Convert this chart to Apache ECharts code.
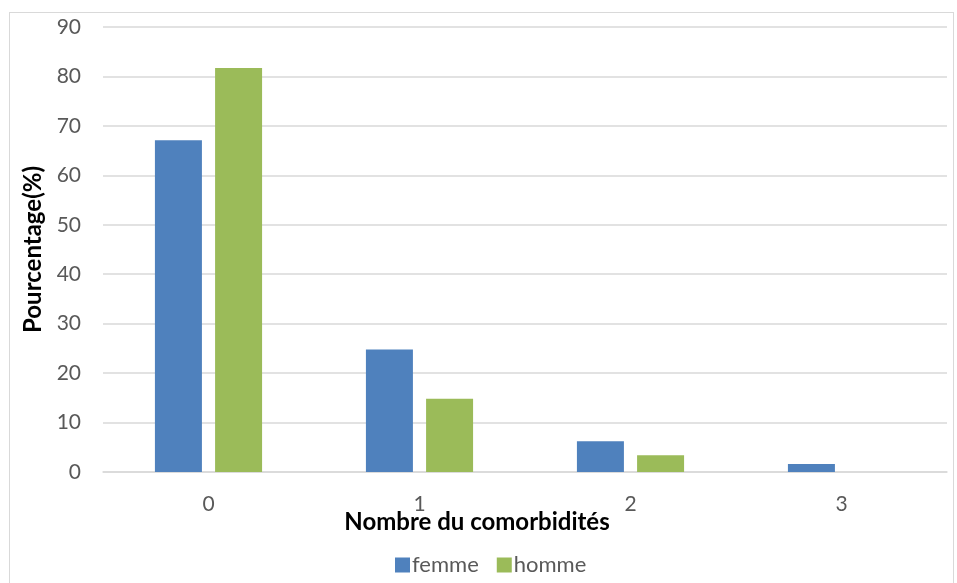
<!DOCTYPE html>
<html>
<head>
<meta charset="utf-8">
<script src="https://cdn.jsdelivr.net/npm/echarts@6/dist/echarts.min.js"></script>
<style>
  html, body { margin: 0; padding: 0; background: #fff; }
  #frame { position: absolute; left: 9px; top: 12px; width: 945px; height: 580px; border: 1px solid #d9d9d9; box-sizing: border-box; }
  #chart { position: absolute; left: 0; top: 0; width: 957px; height: 583px; }
</style>
</head>
<body>
<div id="frame"></div>
<div id="chart"></div>
<script>
// Number of comorbidities by sex (percent)
const categories = ['0', '1', '2', '3'];
const femme = [67.1, 24.8, 6.2, 1.6];
const homme = [81.7, 14.8, 3.4, 0];
const yTicks = { min: 0, max: 90, interval: 10 };

const FONT = 'Lato, "Open Sans", sans-serif';
const chart = echarts.init(document.getElementById('chart'), null, { renderer: 'canvas' });
chart.setOption({
  animation: false,
  textStyle: { fontFamily: FONT },
  grid: { left: 103, right: 10, top: 27, bottom: 111, containLabel: false },
  legend: {
    bottom: 2,
    left: 390,
    itemWidth: 15,
    itemHeight: 15,
    itemGap: 18,
    icon: 'rect',
    textStyle: { fontFamily: FONT, fontSize: 22, color: '#595959', padding: [0, 0, 0, -3] },
    data: ['femme', 'homme']
  },
  xAxis: {
    type: 'category',
    data: categories,
    name: 'Nombre du comorbidités',
    nameLocation: 'middle',
    nameGap: 38,
    nameMoveOverlap: false,
    // centred on the whole chart rather than on the plot area
    nameTextStyle: { fontFamily: FONT, fontSize: 24, fontWeight: 'bold', color: '#000', padding: [0, 96, 0, 0] },
    axisLine: { show: true, lineStyle: { color: '#d9d9d9', width: 1.5 } },
    axisTick: { show: false },
    axisLabel: { fontFamily: FONT, fontSize: 21, color: '#595959', margin: 22 }
  },
  yAxis: {
    type: 'value',
    min: yTicks.min,
    max: yTicks.max,
    interval: yTicks.interval,
    name: 'Pourcentage(%)',
    nameLocation: 'middle',
    nameGap: 58,
    nameMoveOverlap: false,
    nameTextStyle: { fontFamily: FONT, fontSize: 24, fontWeight: 'bold', color: '#000' },
    axisLine: { show: false },
    axisTick: { show: false },
    axisLabel: { fontFamily: FONT, fontSize: 21, color: '#595959', margin: 22 },
    splitLine: { lineStyle: { color: '#d9d9d9', width: 1.5 } }
  },
  series: [
    {
      name: 'femme', type: 'bar', data: femme,
      barWidth: 47, barGap: '28%',
      itemStyle: { color: '#4f81bd' }
    },
    {
      name: 'homme', type: 'bar', data: homme,
      barWidth: 47, barGap: '28%',
      itemStyle: { color: '#9bbb59' }
    }
  ]
});
</script>
</body>
</html>
